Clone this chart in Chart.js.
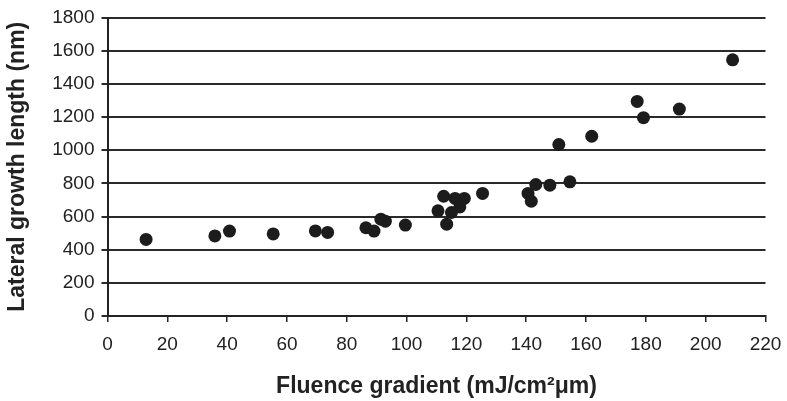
<!DOCTYPE html>
<html>
<head>
<meta charset="utf-8">
<script src="https://cdn.jsdelivr.net/npm/chart.js@4"></script>
<style>
  html, body { margin: 0; padding: 0; background: #fff; }
  #wrap { width: 787px; height: 401px; position: relative; }
</style>
</head>
<body>
<div id="wrap"><canvas id="c" width="787" height="401"></canvas></div>
<script>
// Data
const fluenceGradient = [12.9, 35.9, 40.8, 55.4, 69.5, 73.6, 86.4, 89.1, 91.4, 92.9, 99.6, 110.5, 112.4, 113.4, 115.0, 116.2, 117.8, 119.3, 125.4, 140.6, 141.7, 143.2, 147.9, 150.9, 154.6, 161.9, 177.1, 179.2, 191.2, 209.0];
const lateralGrowth = [462, 483, 512, 495, 513, 504, 532, 512, 584, 572, 548, 634, 722, 554, 624, 709, 658, 709, 739, 739, 692, 793, 789, 1034, 809, 1084, 1294, 1196, 1248, 1545];
const xTitle = 'Fluence gradient (mJ/cm\u00B2\u03BCm)';
const yTitle = 'Lateral growth length (nm)';

const points = fluenceGradient.map((x, i) => ({ x: x, y: lateralGrowth[i] }));
const FONT = 'Liberation Sans, Arial, sans-serif';
const INK = '#222';

new Chart(document.getElementById('c'), {
  type: 'scatter',
  data: {
    datasets: [{
      data: points,
      backgroundColor: '#1c1c1c',
      borderColor: '#1c1c1c',
      pointRadius: 6.5,
      pointHoverRadius: 6.5,
      borderWidth: 0
    }]
  },
  options: {
    responsive: false,
    animation: false,
    devicePixelRatio: 1,
    layout: { padding: { top: 17.5, right: 21.5, bottom: 0, left: 0 } },
    plugins: { legend: { display: false }, tooltip: { enabled: false } },
    scales: {
      x: {
        type: 'linear',
        min: 0, max: 220,
        afterFit: s => { s.height = 85; s.paddingLeft = 0; s.paddingRight = 0; },
        ticks: { stepSize: 20, color: INK, font: { family: FONT, size: 19 }, padding: 11, maxRotation: 0 },
        grid: { drawOnChartArea: false, drawTicks: true, tickLength: 6, color: INK, lineWidth: 1.5 },
        border: { display: true, color: INK, width: 2 },
        title: { display: true, text: xTitle, color: INK, font: { family: FONT, size: 23, weight: 'bold' }, padding: { top: 0, bottom: 1 } }
      },
      y: {
        type: 'linear',
        min: 0, max: 1800,
        afterFit: s => { s.width = 107.5; s.paddingTop = 0; s.paddingBottom = 0; },
        ticks: { stepSize: 200, color: INK, font: { family: FONT, size: 19 }, padding: 7, callback: v => String(v) },
        grid: { drawOnChartArea: true, drawTicks: true, tickLength: 6, color: '#2a2a2a', lineWidth: 2 },
        border: { display: true, color: INK, width: 2 },
        title: { display: true, text: yTitle, color: INK, font: { family: FONT, size: 23, weight: 'bold' }, padding: { top: 4, bottom: 0 } }
      }
    }
  }
});
</script>
</body>
</html>
